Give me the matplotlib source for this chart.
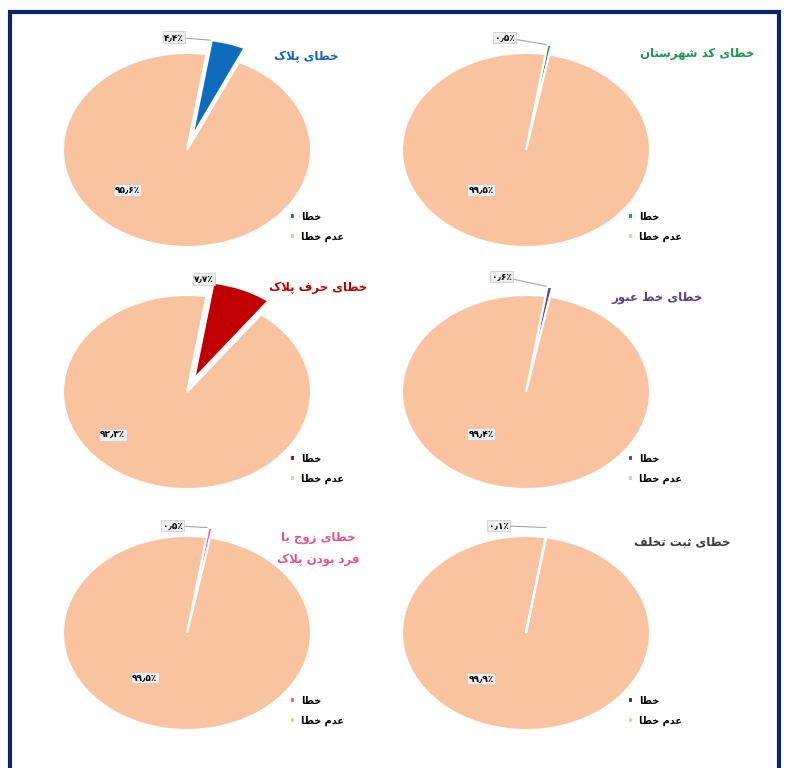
import numpy as np
import matplotlib.pyplot as plt
from matplotlib.patches import Rectangle

W, H = 789, 768

# chart data
titles = [['خطای پلاک'], ['خطای کد شهرستان'],
          ['خطای حرف پلاک'], ['خطای خط عبور'],
          ['خطای زوج یا', 'فرد بودن پلاک'], ['خطای ثبت تخلف']]
error_pct = [4.4, 0.5, 7.7, 0.6, 0.5, 0.1]
legend_labels = ['خطا', 'عدم خطا']

slice_colors = ['#0f6cbd', '#1ea55a', '#c00000', '#5b4593', '#ef5f9c', '#3a3a3a']
title_colors = ['#1565b8', '#1a9a4c', '#c00000', '#5b3f8f', '#e0578f', '#3a3a3a']
rest_color = '#f9c39f'
explode = [0.15, 0.1, 0.15, 0.1, 0.1, 0.1]

# layout in pixels
centers = [(187, 150), (526, 150), (187, 392), (526, 392), (187, 633), (526, 633)]
RX, RY = 124, 97
title_pos = [(306, 57), (697, 53), (318, 288), (657, 297), (318, 549), (682, 542)]
legend_pos = [(285, 207), (623, 207), (285, 449), (623, 449), (285, 691), (623, 691)]
tip_offset = [(-28, 3), (-33, 7), (0, 4), (-36, 10), (-26, 2), (-39, 2)]
rest_label_pos = [(-0.48, -0.41), (-0.36, -0.41), (-0.6, -0.44),
                  (-0.36, -0.43), (-0.34, -0.46), (-0.36, -0.47)]

# simple arabic/persian shaping (presentation forms) for matplotlib
FORMS = {
    'ا': ('\uFE8D', '\uFE8E'), 'د': ('\uFEA9', '\uFEAA'), 'ر': ('\uFEAD', '\uFEAE'),
    'ز': ('\uFEAF', '\uFEB0'), 'و': ('\uFEED', '\uFEEE'),
    'ب': ('\uFE8F', '\uFE90', '\uFE91', '\uFE92'), 'پ': ('\uFB56', '\uFB57', '\uFB58', '\uFB59'),
    'ت': ('\uFE95', '\uFE96', '\uFE97', '\uFE98'), 'ث': ('\uFE99', '\uFE9A', '\uFE9B', '\uFE9C'),
    'ج': ('\uFE9D', '\uFE9E', '\uFE9F', '\uFEA0'), 'ح': ('\uFEA1', '\uFEA2', '\uFEA3', '\uFEA4'),
    'خ': ('\uFEA5', '\uFEA6', '\uFEA7', '\uFEA8'), 'س': ('\uFEB1', '\uFEB2', '\uFEB3', '\uFEB4'),
    'ش': ('\uFEB5', '\uFEB6', '\uFEB7', '\uFEB8'), 'ط': ('\uFEC1', '\uFEC2', '\uFEC3', '\uFEC4'),
    'ع': ('\uFEC9', '\uFECA', '\uFECB', '\uFECC'), 'ف': ('\uFED1', '\uFED2', '\uFED3', '\uFED4'),
    'ک': ('\uFB8E', '\uFB8F', '\uFB90', '\uFB91'), 'ل': ('\uFEDD', '\uFEDE', '\uFEDF', '\uFEE0'),
    'م': ('\uFEE1', '\uFEE2', '\uFEE3', '\uFEE4'), 'ن': ('\uFEE5', '\uFEE6', '\uFEE7', '\uFEE8'),
    'ه': ('\uFEE9', '\uFEEA', '\uFEEB', '\uFEEC'), 'ی': ('\uFBFC', '\uFBFD', '\uFBFE', '\uFBFF'),
}


def dual(c):
    return c in FORMS and len(FORMS[c]) == 4


def shape(s):
    out = []
    i = 0
    while i < len(s):
        c = s[i]
        if c not in FORMS:
            out.append(c)
            i += 1
            continue
        link_prev = i > 0 and dual(s[i-1])
        if c == 'ل' and i+1 < len(s) and s[i+1] == 'ا':
            out.append('\uFEFC' if link_prev else '\uFEFB')
            i += 2
            continue
        link_next = dual(c) and i+1 < len(s) and s[i+1] in FORMS
        f = FORMS[c]
        if link_prev and link_next:
            g = f[3]
        elif link_prev:
            g = f[1]
        elif link_next:
            g = f[2]
        else:
            g = f[0]
        out.append(g)
        i += 1
    return ''.join(reversed(out))


fa_digits = str.maketrans('0123456789.', '۰۱۲۳۴۵۶۷۸۹٫')


def pct(v):
    return ('%.1f' % v).translate(fa_digits) + '٪'


plt.rcParams['font.family'] = ['DejaVu Sans']
fig = plt.figure(figsize=(W/100, H/100), dpi=100)

box = dict(boxstyle='square,pad=0.15', fc='#eeeeee', ec='#c8c8c8', lw=0.5)

for k in range(6):
    cx, cy = centers[k]
    ax = fig.add_axes([(cx-RX)/W, 1-(cy+RY)/H, 2*RX/W, 2*RY/H])
    vals = [error_pct[k], 100-error_pct[k]]
    wedges, _ = ax.pie(vals, colors=[slice_colors[k], rest_color],
                       explode=[explode[k], 0], startangle=81, counterclock=False,
                       wedgeprops=dict(edgecolor='white', linewidth=1.5))
    ax.set_aspect('auto')
    ax.set_xlim(-1, 1)
    ax.set_ylim(-1, 1)
    for w in wedges:
        w.set_clip_on(False)

    # error label with leader line to the slice tip
    w = wedges[0]
    th = np.deg2rad(w.theta2)
    tip = (w.center[0] + w.r*np.cos(th), w.center[1] + w.r*np.sin(th))
    ax.annotate(pct(vals[0]), xy=tip, xytext=tip_offset[k], textcoords='offset pixels',
                ha='right', va='center', fontsize=6.5, fontweight='bold', bbox=box,
                arrowprops=dict(arrowstyle='-', color='#a6a6a6', lw=0.8,
                                shrinkA=0, shrinkB=1),
                annotation_clip=False)
    rx, ry = rest_label_pos[k]
    ax.text(rx, ry, pct(vals[1]), ha='center', va='center',
            fontsize=6.5, fontweight='bold', bbox=box)

    lx, ly = legend_pos[k]
    ax.legend(wedges, [shape(t) for t in legend_labels], loc='upper left',
              bbox_to_anchor=(lx/W, 1-ly/H), bbox_transform=fig.transFigure,
              frameon=False, borderpad=0, handlelength=0.55, handleheight=0.55,
              handletextpad=0.6, labelspacing=1.0,
              prop={'weight': 'bold', 'size': 7})

    tx, ty = title_pos[k]
    lines = titles[k]
    for j, line in enumerate(lines):
        fig.text(tx/W, 1-(ty + (j - (len(lines)-1)/2)*22)/H, shape(line),
                 ha='center', va='center', fontsize=8.5, fontweight='bold',
                 color=title_colors[k])

fig.add_artist(Rectangle((10/W, -0.05), (779-10)/W, 1-12/H+0.05,
                         transform=fig.transFigure, fill=False,
                         ec='#0b2466', lw=3))

fig.savefig('out.png', dpi=100)
